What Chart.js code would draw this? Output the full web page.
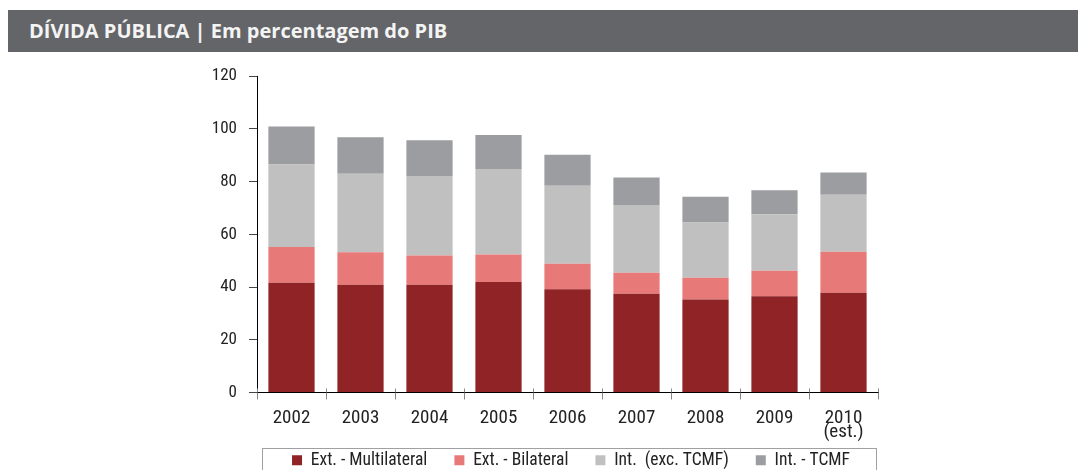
<!DOCTYPE html>
<html>
<head>
<meta charset="utf-8">
<script src="https://cdn.jsdelivr.net/npm/chart.js@4.4.0/dist/chart.umd.min.js"></script>
<style>
  html, body { margin: 0; padding: 0; background: #fff; width: 1078px; height: 470px; overflow: hidden; position: relative; }
  #hdr { position: absolute; left: 8px; top: 10px; width: 1070px; height: 42px; background: #636569;
         color: #f4f4f4; font-family: "Open Sans", sans-serif; font-weight: 700; font-size: 20px;
         line-height: 42px; box-sizing: border-box; padding-left: 21px; white-space: nowrap; }
  #wrap { position: absolute; left: 0; top: 52px; width: 1078px; height: 427px; }
</style>
</head>
<body>
<div id="hdr">DÍVIDA PÚBLICA | Em percentagem do PIB</div>
<div id="wrap"><canvas id="c" width="1078" height="427"></canvas></div>
<script>
const categories = ['2002', '2003', '2004', '2005', '2006', '2007', '2008', '2009', '2010'];
const categorySubLabels = ['', '', '', '', '', '', '', '', '(est.)'];
const extMultilateral = [41.6, 40.9, 40.9, 41.9, 39.1, 37.4, 35.3, 36.5, 37.8];
const extBilateral    = [13.6, 12.3, 11.0, 10.4,  9.7,  8.0,  8.2,  9.7, 15.6];
const intExcTCMF      = [31.2, 29.7, 30.2, 32.4, 29.6, 25.7, 21.0, 21.4, 21.6];
const intTCMF         = [14.5, 13.9, 13.5, 12.9, 11.7, 10.4,  9.7,  9.1,  8.4];
const seriesNames = ['Ext. - Multilateral', 'Ext. - Bilateral', 'Int.  (exc. TCMF)', 'Int. - TCMF'];
const yTicks = [0, 20, 40, 60, 80, 100, 120];

const colors = ['#8f2325', '#e77a78', '#c0c0c0', '#9c9da1'];
const FONT = '"Roboto Condensed", "Roboto", sans-serif';

const extras = {
  id: 'extras',
  afterDraw(chart) {
    const ctx = chart.ctx;
    const xs = chart.scales.x;
    const ca = chart.chartArea;
    ctx.save();
    ctx.strokeStyle = '#888';
    ctx.lineWidth = 1;
    const n = categories.length;
    const half = (xs.getPixelForValue(1) - xs.getPixelForValue(0)) / 2;
    for (let i = 0; i <= n; i++) {
      const x = Math.round(xs.getPixelForValue(0) - half + i * 2 * half) + 0.5;
      ctx.beginPath();
      ctx.moveTo(x, ca.bottom - 4);
      ctx.lineTo(x, ca.bottom);
      ctx.stroke();
    }
    const lg = chart.legend;
    ctx.strokeStyle = '#a0a0a0';
    ctx.strokeRect(Math.round(ca.left) + 5.5, Math.round(lg.top) + 23.5, Math.round(ca.right - ca.left) - 7, 200);
    ctx.restore();
  }
};

new Chart(document.getElementById('c'), {
  type: 'bar',
  data: {
    labels: categories,
    datasets: [
      { label: seriesNames[0], data: extMultilateral, backgroundColor: colors[0] },
      { label: seriesNames[1], data: extBilateral, backgroundColor: colors[1] },
      { label: seriesNames[2], data: intExcTCMF, backgroundColor: colors[2] },
      { label: seriesNames[3], data: intTCMF, backgroundColor: colors[3] }
    ]
  },
  options: {
    responsive: false,
    animation: false,
    barPercentage: 0.67,
    categoryPercentage: 1.0,
    layout: { padding: { left: 200, right: 136, top: 24, bottom: 0 } },
    plugins: {
      tooltip: { enabled: false },
      legend: {
        position: 'bottom',
        labels: {
          boxWidth: 10, boxHeight: 10, padding: 27,
          color: '#222',
          font: { family: FONT, size: 17.5 }
        }
      }
    },
    scales: {
      x: {
        stacked: true,
        border: { display: true, color: '#000', width: 1 },
        grid: { display: true, offset: true, drawOnChartArea: false, tickLength: 7, color: '#888' },
        ticks: {
          color: '#222', mirror: true, padding: -33, maxRotation: 0, autoSkip: false,
          font: { family: FONT, size: 19, lineHeight: 0.75 },
          callback(value, index) {
            const sub = categorySubLabels[index];
            return sub ? [categories[index], sub] : categories[index];
          }
        },
        afterFit(s) { s.height = 32; }
      },
      y: {
        stacked: true,
        min: 0, max: 120,
        afterBuildTicks(s) { s.ticks = yTicks.map(v => ({ value: v })); },
        border: { display: true, color: '#000', width: 1 },
        grid: { display: true, drawOnChartArea: false, tickLength: 8, color: '#444' },
        ticks: { color: '#222', padding: 12, font: { family: FONT, size: 17 } },
        afterFit(s) { s.width = 57; }
      },
      yR: {
        type: 'linear', axis: 'y', position: 'right', display: true,
        grid: { display: false, drawTicks: false },
        border: { display: false },
        ticks: { display: false },
        afterFit(s) { s.width = 64; }
      }
    }
  },
  plugins: [extras]
});
</script>
</body>
</html>
